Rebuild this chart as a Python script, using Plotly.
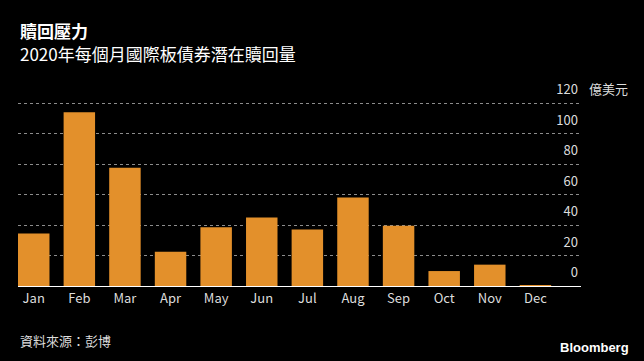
import plotly.graph_objects as go

months = ["Jan", "Feb", "Mar", "Apr", "May", "Jun", "Jul", "Aug", "Sep", "Oct", "Nov", "Dec"]
values = [34.5, 114, 77.5, 22.5, 38.5, 45, 37, 58, 39.5, 9.8, 14, 0.6]
ytick_vals = [0, 20, 40, 60, 80, 100, 120]
ytick_text = ["0", "20", "40", "60", "80", "100", "120"]

title = "贖回壓力"
subtitle = "2020年每個月國際板債券潛在贖回量"
unit = "億美元"
source = "資料來源：彭博"
brand = "Bloomberg"

W, H = 644, 361
ML, MR, MT, MB = 18, 63, 66, 75
PW, PH = W - ML - MR, H - MT - MB
PX_PER_UNIT = 183 / 120
YTOP = PH / PX_PER_UNIT

def px_x(x):
    return (x - ML) / PW

def px_y(y):
    return (H - MB - y) / PH

FONT = "Noto Sans CJK TC, Noto Sans, sans-serif"

fig = go.Figure(
    go.Bar(
        x=months,
        y=values,
        marker=dict(color="#E3902B", line=dict(width=0)),
        hoverinfo="skip",
    )
)

fig.update_layout(
    width=W,
    height=H,
    margin=dict(l=ML, r=MR, t=MT, b=MB),
    paper_bgcolor="#000000",
    plot_bgcolor="#000000",
    bargap=0.31,
    showlegend=False,
    font=dict(family=FONT, color="#dddddd", size=13),
    xaxis=dict(
        type="category",
        range=[-0.345, 12.0],
        showline=True,
        linecolor="#ffffff",
        linewidth=1,
        showgrid=False,
        zeroline=False,
        ticks="",
        tickfont=dict(size=13, color="#dddddd", family=FONT),
    ),
    yaxis=dict(
        side="right",
        range=[0, YTOP],
        tickvals=ytick_vals,
        ticktext=ytick_text,
        ticklabelposition="inside top",
        ticklabelshift=-4,
        showgrid=True,
        gridcolor="#8c8c8c",
        gridwidth=1,
        griddash="dot",
        zeroline=False,
        showline=False,
        ticks="",
        tickfont=dict(size=13, color="#dddddd", family=FONT),
    ),
    annotations=[
        dict(text="<b>" + title + "</b>", x=px_x(18), y=px_y(30), xref="paper", yref="paper",
             xanchor="left", yanchor="middle", showarrow=False,
             font=dict(size=17, color="#ffffff", family=FONT)),
        dict(text=subtitle, x=px_x(18), y=px_y(53), xref="paper", yref="paper",
             xanchor="left", yanchor="middle", showarrow=False,
             font=dict(size=17, color="#ffffff", family=FONT)),
        dict(text=unit, x=px_x(587), y=px_y(88.5), xref="paper", yref="paper",
             xanchor="left", yanchor="middle", showarrow=False,
             font=dict(size=13, color="#dddddd", family=FONT)),
        dict(text=source, x=px_x(18), y=px_y(340), xref="paper", yref="paper",
             xanchor="left", yanchor="middle", showarrow=False,
             font=dict(size=13, color="#dddddd", family=FONT)),
        dict(text="<b>" + brand + "</b>", x=px_x(631), y=px_y(347), xref="paper", yref="paper",
             xanchor="right", yanchor="middle", showarrow=False,
             font=dict(size=13, color="#ffffff", family="Liberation Sans, Arial, sans-serif")),
    ],
)

fig.write_html(
    "out.html",
    config={"displayModeBar": False},
    post_script="document.body.style.margin='0';document.body.style.background='#000';",
)
